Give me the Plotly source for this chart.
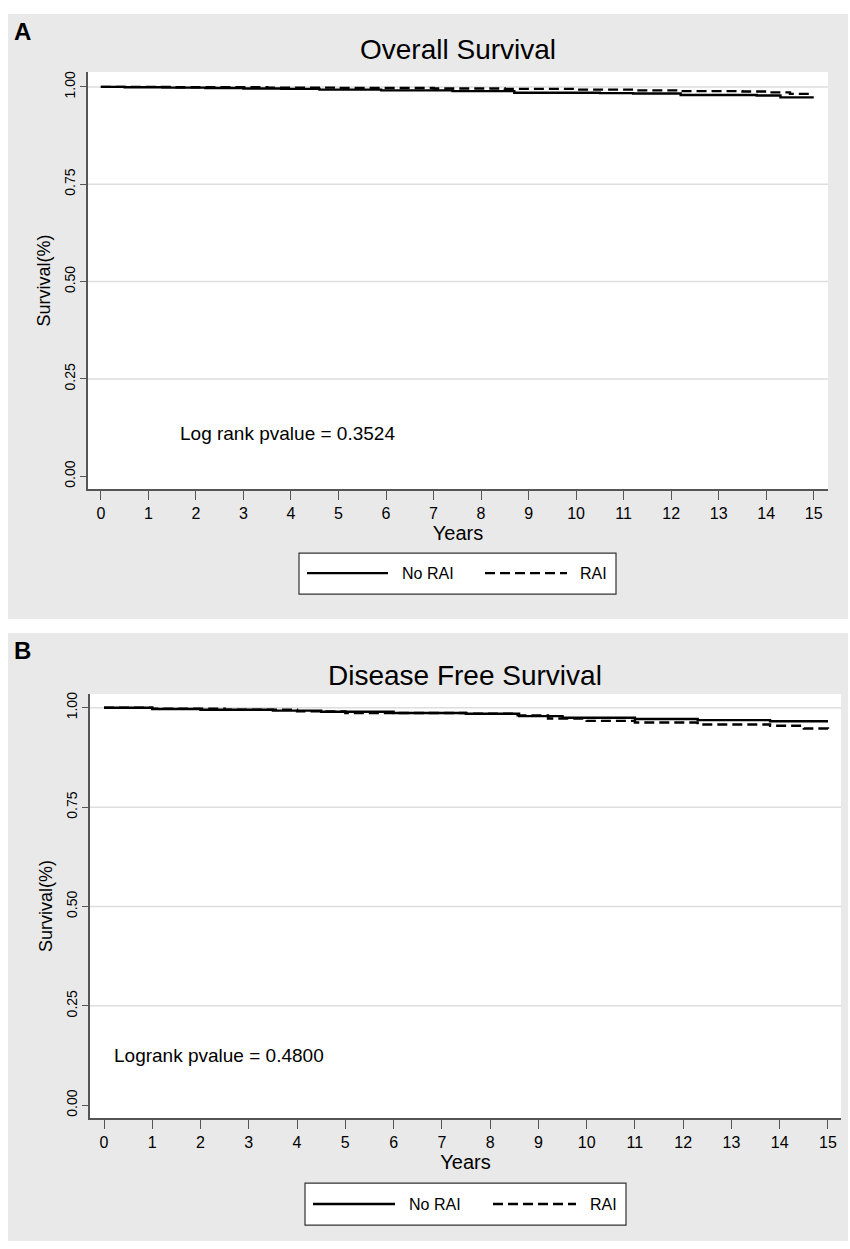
import plotly.graph_objects as go

# ---------------- data ----------------
years_ticks = list(range(0, 16))
surv_ticks = [0.00, 0.25, 0.50, 0.75, 1.00]
surv_ticklabels = ["0.00", "0.25", "0.50", "0.75", "1.00"]

# Panel A: Overall survival
os_norai_t = [0, 0.5, 1.3, 2.2, 3.0, 3.8, 4.6, 5.9, 7.4, 8.7, 10.5, 11.2, 12.2, 13.8, 14.3, 15]
os_norai_s = [1.0, 0.999, 0.998, 0.997, 0.996, 0.995, 0.993, 0.991, 0.989, 0.985, 0.984, 0.983, 0.979, 0.978, 0.973, 0.973]
os_rai_t = [0, 1.5, 3.5, 5.0, 7.0, 8.5, 10.0, 11.2, 12.2, 13.5, 14.0, 14.5, 15]
os_rai_s = [1.0, 0.999, 0.998, 0.997, 0.996, 0.995, 0.993, 0.991, 0.989, 0.988, 0.986, 0.982, 0.982]

# Panel B: Disease free survival
dfs_norai_t = [0, 1.0, 2.0, 3.5, 4.5, 6.0, 7.5, 8.6, 9.5, 11.0, 12.3, 13.8, 15]
dfs_norai_s = [1.0, 0.997, 0.995, 0.993, 0.990, 0.987, 0.985, 0.979, 0.975, 0.972, 0.969, 0.966, 0.966]
dfs_rai_t = [0, 1.0, 2.5, 4.0, 5.0, 7.5, 8.5, 9.2, 10.0, 11.0, 12.3, 13.8, 14.5, 15]
dfs_rai_s = [1.0, 0.998, 0.995, 0.991, 0.987, 0.985, 0.981, 0.973, 0.967, 0.963, 0.958, 0.955, 0.948, 0.945]

titles = ["Overall Survival", "Disease Free Survival"]
panel_letters = ["A", "B"]
pvalue_texts = ["Log rank pvalue = 0.3524", "Logrank pvalue = 0.4800"]
pvalue_pos = [(1.62, 0.11), (0.17, 0.126)]
series_names = ["No RAI", "RAI"]

# ---------------- layout helpers ----------------
W, H = 850, 1249
def px(x):
    return x / W
def py(y):
    return 1 - y / H

FONT = "Liberation Sans Narrow, Liberation Sans, Arial, sans-serif"
GRAY_BG = "#e9e9e9"
AXIS_COL = "#555555"
GRID_COL = "#dedede"
DASH = "10px,5px"

fig = go.Figure()

panels = [
    dict(x="x", y="y", xdom=[px(88), px(828)], ydom=[py(488), py(70)],
         xr=[-0.27, 15.30], yr=[-0.0333, 1.0385],
         bg=(8, 12, 848, 618), letter_y=30, title_y=48,
         leg=dict(box=(299, 552, 616, 593), solid=(307, 388), tsolid=400,
                  dash=(485, 567), tdash=578, ymid=572),
         data=[(os_norai_t, os_norai_s), (os_rai_t, os_rai_s)]),
    dict(x="x2", y="y2", xdom=[px(90), px(841)], ydom=[py(1118), py(693)],
         xr=[-0.29, 15.27], yr=[-0.0327, 1.035],
         bg=(8, 632, 848, 1241), letter_y=650, title_y=675,
         leg=dict(box=(305, 1183, 626, 1225), solid=(313, 395), tsolid=407,
                  dash=(493, 576), tdash=588, ymid=1204),
         data=[(dfs_norai_t, dfs_norai_s), (dfs_rai_t, dfs_rai_s)]),
]

shapes = []
annotations = []

for i, p in enumerate(panels):
    # curves
    for j, (t, s) in enumerate(p["data"]):
        fig.add_trace(go.Scatter(
            x=t, y=s, mode="lines", name=series_names[j],
            line=dict(color="black", width=2.4, shape="hv",
                      dash="solid" if j == 0 else DASH),
            xaxis=p["x"], yaxis=p["y"], showlegend=False))

    # gray panel background
    x0, y0, x1, y1 = p["bg"]
    shapes.append(dict(type="rect", xref="paper", yref="paper",
                       x0=px(x0), x1=px(x1), y0=py(y1), y1=py(y0),
                       fillcolor=GRAY_BG, line=dict(width=0), layer="below"))
    # white plot area
    shapes.append(dict(type="rect", xref=p["x"] + " domain", yref=p["y"] + " domain",
                       x0=0, x1=1, y0=0, y1=1,
                       fillcolor="white", line=dict(width=0), layer="below"))
    # gridlines (not at 0)
    for v in surv_ticks[1:]:
        shapes.append(dict(type="line", xref=p["x"] + " domain", yref=p["y"],
                           x0=0, x1=1, y0=v, y1=v,
                           line=dict(color=GRID_COL, width=1.5), layer="below"))

    # legend box (manual)
    lg = p["leg"]
    bx0, by0, bx1, by1 = lg["box"]
    shapes.append(dict(type="rect", xref="paper", yref="paper",
                       x0=px(bx0), x1=px(bx1), y0=py(by1), y1=py(by0),
                       fillcolor="white", line=dict(color="#333333", width=1.2)))
    shapes.append(dict(type="line", xref="paper", yref="paper",
                       x0=px(lg["solid"][0]), x1=px(lg["solid"][1]),
                       y0=py(lg["ymid"]), y1=py(lg["ymid"]),
                       line=dict(color="black", width=2.4)))
    shapes.append(dict(type="line", xref="paper", yref="paper",
                       x0=px(lg["dash"][0]), x1=px(lg["dash"][1]),
                       y0=py(lg["ymid"]), y1=py(lg["ymid"]),
                       line=dict(color="black", width=2.4, dash=DASH)))
    annotations.append(dict(xref="paper", yref="paper", x=px(lg["tsolid"]), y=py(lg["ymid"]),
                            text=series_names[0], showarrow=False, xanchor="left",
                            yanchor="middle", font=dict(size=16, color="black", family=FONT)))
    annotations.append(dict(xref="paper", yref="paper", x=px(lg["tdash"]), y=py(lg["ymid"]),
                            text=series_names[1], showarrow=False, xanchor="left",
                            yanchor="middle", font=dict(size=16, color="black", family=FONT)))

    # panel letter
    annotations.append(dict(xref="paper", yref="paper", x=px(12), y=py(p["letter_y"]),
                            text="<b>" + panel_letters[i] + "</b>", showarrow=False,
                            xanchor="left", yanchor="middle",
                            font=dict(size=24, color="black", family="Liberation Sans, Arial")))
    # title
    annotations.append(dict(xref="paper", yref="paper", x=(p["xdom"][0] + p["xdom"][1]) / 2,
                            y=py(p["title_y"]), text=titles[i], showarrow=False,
                            xanchor="center", yanchor="middle",
                            font=dict(size=28, color="black", family=FONT)))
    # p-value
    annotations.append(dict(xref=p["x"], yref=p["y"], x=pvalue_pos[i][0], y=pvalue_pos[i][1],
                            text=pvalue_texts[i], showarrow=False, xanchor="left",
                            yanchor="middle", font=dict(size=19, color="black", family=FONT)))

axis_common_x = dict(tickmode="array", tickvals=years_ticks, ticktext=[str(v) for v in years_ticks],
                     ticks="outside", ticklen=9, tickcolor=AXIS_COL, tickwidth=1.2,
                     showline=True, linecolor=AXIS_COL, linewidth=1.5, showgrid=False,
                     zeroline=False, tickfont=dict(size=16, color="black", family=FONT),
                     title=dict(text="Years", font=dict(size=20, color="black", family=FONT),
                                standoff=0))
axis_common_y = dict(tickmode="array", tickvals=surv_ticks, ticktext=surv_ticklabels,
                     ticks="outside", ticklen=6, tickcolor=AXIS_COL, tickwidth=1.2,
                     tickangle=-90, showline=True, linecolor=AXIS_COL, linewidth=1.5,
                     showgrid=False, zeroline=False,
                     tickfont=dict(size=14, color="black", family="Liberation Sans, Arial"),
                     title=dict(text="Survival(%)", font=dict(size=18, color="black", family=FONT),
                                standoff=6))

fig.update_layout(
    width=W, height=H, margin=dict(l=0, r=0, t=0, b=0),
    paper_bgcolor="white", plot_bgcolor="white",
    xaxis=dict(domain=panels[0]["xdom"], range=panels[0]["xr"], anchor="y", **axis_common_x),
    yaxis=dict(domain=panels[0]["ydom"], range=panels[0]["yr"], anchor="x", **axis_common_y),
    xaxis2=dict(domain=panels[1]["xdom"], range=panels[1]["xr"], anchor="y2", **axis_common_x),
    yaxis2=dict(domain=panels[1]["ydom"], range=panels[1]["yr"], anchor="x2", **axis_common_y),
    shapes=shapes, annotations=annotations, showlegend=False,
)

fig.write_html("out.html", config={"displayModeBar": False},
               post_script="document.body.style.margin='0';")
